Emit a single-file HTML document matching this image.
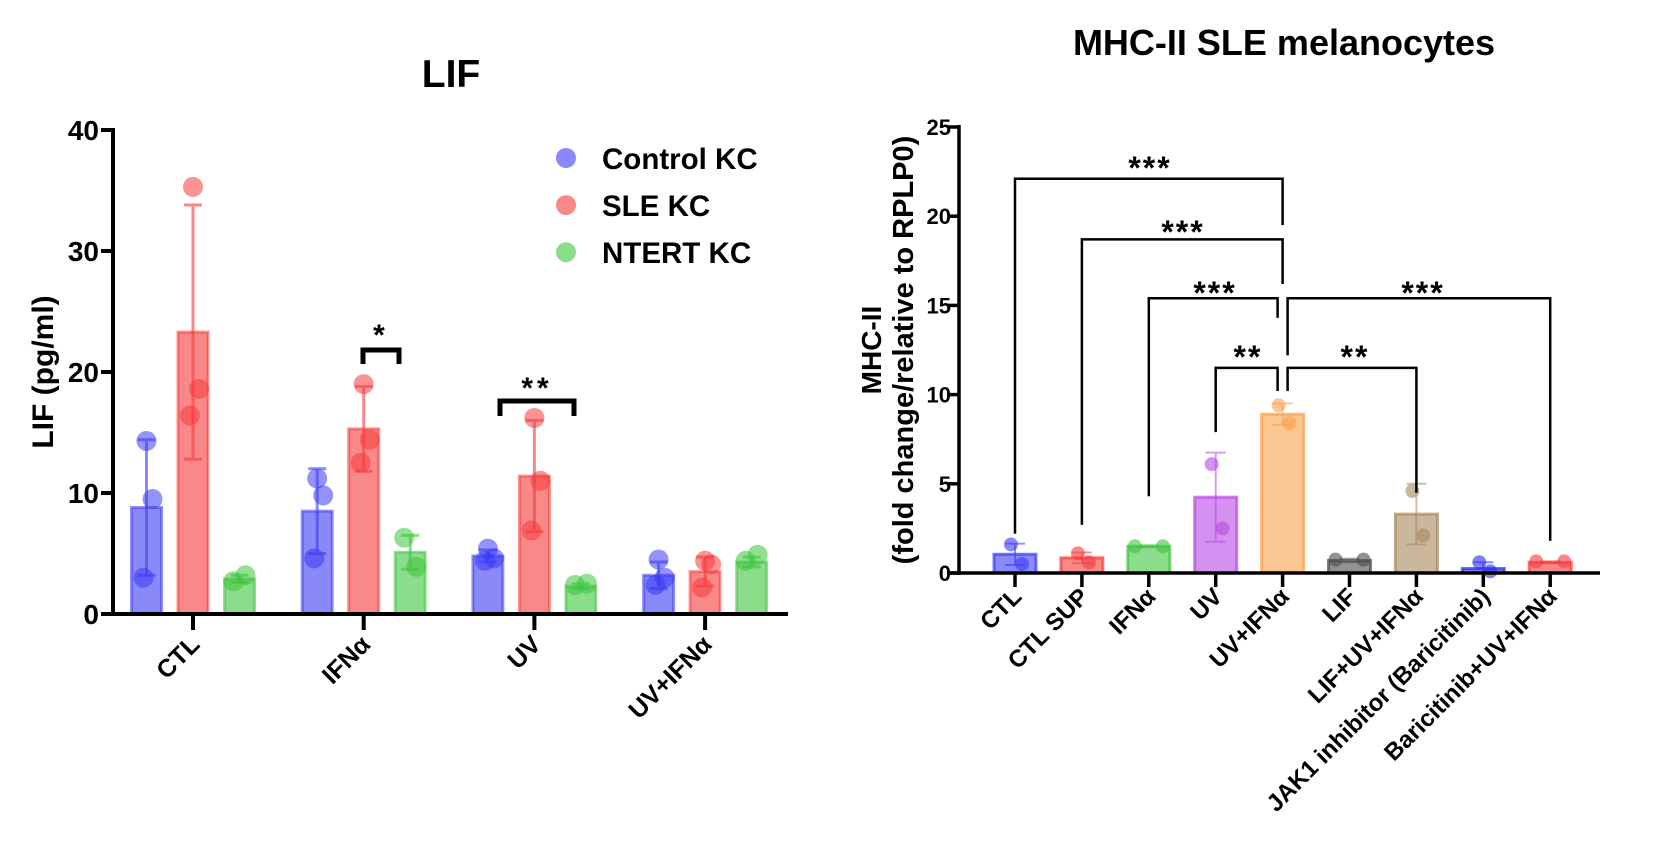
<!DOCTYPE html>
<html><head><meta charset="utf-8"><style>
html,body{margin:0;padding:0;background:#fff;}
svg{display:block;font-family:"Liberation Sans",Arial,sans-serif;font-weight:bold;}
</style></head><body>
<svg id="chart" width="1662" height="851" viewBox="0 0 1662 851" xmlns="http://www.w3.org/2000/svg">
<text x="451" y="87" font-size="39" text-anchor="middle">LIF</text>
<text x="1284" y="55" font-size="36" text-anchor="middle">MHC-II SLE melanocytes</text>
<text transform="translate(53,372) rotate(-90)" font-size="30" text-anchor="middle">LIF (pg/ml)</text>
<text transform="translate(881,350) rotate(-90)" font-size="28" text-anchor="middle">MHC-II</text>
<text transform="translate(913,350) rotate(-90)" font-size="29" text-anchor="middle">(fold change/relative to RPLP0)</text>
<g id="left"></g><g id="right"></g>
</svg>
<script>
const lifCategories=["CTL","IFNα","UV","UV+IFNα"];
const lifSeries=["Control KC","SLE KC","NTERT KC"];
const lifMeans=[[8.8,8.5,4.8,3.2],[23.3,15.3,11.4,3.5],[2.9,5.1,2.3,4.3]];
const lifSD=[[5.6,3.5,0.5,1.1],[10.5,3.5,4.6,1.2],[0.3,1.4,0.2,0.4]];
const lifPoints=[[[14.3,9.5,3.0],[11.2,9.8,4.6],[5.4,4.6,4.4],[4.5,3.0,2.4]],
 [[35.3,18.6,16.4],[19.0,14.4,12.5],[16.2,11.0,6.9],[4.4,4.1,2.2]],
 [[2.7,3.2],[6.3,3.9],[2.4,2.5],[4.4,4.9]]];
const lifTicks=[0,10,20,30,40];
const mhcCategories=["CTL","CTL SUP","IFNα","UV","UV+IFNα","LIF","LIF+UV+IFNα","JAK1 inhibitor (Baricitinib)","Baricitinib+UV+IFNα"];
const mhcMeans=[1.05,0.85,1.5,4.25,8.9,0.7,3.3,0.25,0.6];
const mhcSD=[0.6,0.3,0.05,2.5,0.6,0.1,1.7,0.35,0.05];
const mhcPoints=[[1.6,0.5],[1.1,0.6],[1.5,1.5],[6.1,2.5],[9.4,8.4],[0.75,0.75],[4.6,2.1],[0.6,0.1],[0.65,0.65]];
const mhcTicks=[0,5,10,15,20,25];
const NS="http://www.w3.org/2000/svg";
function mk(tag,parent,attrs){const e=document.createElementNS(NS,tag);for(const k in attrs)e.setAttribute(k,attrs[k]);parent.appendChild(e);return e;}
const L=document.getElementById('left'),R=document.getElementById('right');
const ly=v=>614-v*(484/40);
const lx=(c,s)=>193+c*170.7+(s-1)*46.5;
const lcol=["#3a3af5","#f53a3a","#3ec43e"];
for(let s=0;s<3;s++)for(let c=0;c<4;c++){
 const x=lx(c,s),m=lifMeans[s][c],sd=lifSD[s][c];
 let e=mk('rect',L,{x:x-15,y:ly(m),width:30,height:ly(0)-ly(m),fill:lcol[s],'fill-opacity':0.6,stroke:lcol[s],'stroke-opacity':0.55,'stroke-width':3});
 
 
 const t=ly(m+sd),b=ly(Math.max(0,m-sd));
 mk('path',L,{d:`M${x} ${t} V${b} M${x-9} ${t} H${x+9} M${x-9} ${b} H${x+9}`,stroke:lcol[s],'stroke-opacity':0.6,'stroke-width':3,fill:'none'});
 const pts=lifPoints[s][c];
 pts.forEach((p,i)=>{const off=pts.length===2?(i?6:-6):(i===1?6:(i===2?-3:0));
  e=mk('circle',L,{cx:x+off,cy:ly(p),r:10,fill:lcol[s],'fill-opacity':0.55});
  
  });
}
mk('line',L,{x1:113,x2:113,y1:128,y2:616,stroke:'#000','stroke-width':4});
mk('line',L,{x1:101,x2:788,y1:614,y2:614,stroke:'#000','stroke-width':4});
lifTicks.forEach(t=>{mk('line',L,{x1:101,x2:113,y1:ly(t),y2:ly(t),stroke:'#000','stroke-width':4});
 const e=mk('text',L,{x:99,y:ly(t)+10,'font-size':28,'text-anchor':'end'});e.textContent=t;
 
 });
lifCategories.forEach((c,i)=>{const x=193+i*170.7;mk('line',L,{x1:x,x2:x,y1:614,y2:630,stroke:'#000','stroke-width':4});
 const e=mk('text',L,{transform:`translate(${x+8},${646}) rotate(-45)`,'font-size':25,'text-anchor':'end'});e.textContent=c;
 
 });
function brk(g,x1,x2,yt,yb,label,ly2){mk('path',g,{d:`M${x1} ${yb} V${yt} H${x2} V${yb}`,fill:'none',stroke:'#000','stroke-width':5});
 const e=mk('text',g,{x:(x1+x2)/2,y:ly2,'font-size':30,'text-anchor':'middle','letter-spacing':4});e.textContent=label;
 
 }
brk(L,363,399,350,364,"*",345);
brk(L,500,574,401,416,"**",398);
lifSeries.forEach((s,i)=>{const y=158+i*47.1;
 let e=mk('circle',L,{cx:566,cy:y,r:10,fill:lcol[i],'fill-opacity':0.6});
 
 
 e=mk('text',L,{x:602,y:y+11,'font-size':29.5});e.textContent=s;
 
 });
// right chart
const ry=v=>573-v*17.84;
const rx=i=>1015+i*66.9;
const rcol=["#3a3af5","#f53a3a","#3ec43e","#b947e6","#f7a04a","#4a4a4a","#a8875e","#2a2af0","#f53a3a"];
mhcCategories.forEach((c,i)=>{const x=rx(i),m=mhcMeans[i],sd=mhcSD[i];
 let e=mk('rect',R,{x:x-21,y:ry(m),width:42,height:ry(0)-ry(m),fill:rcol[i],'fill-opacity':0.6,stroke:rcol[i],'stroke-opacity':0.7,'stroke-width':3});
 
 
 const t=ry(m+sd),b=ry(Math.max(0,m-sd));
 mk('path',R,{d:`M${x} ${t} V${b} M${x-10} ${t} H${x+10} M${x-10} ${b} H${x+10}`,stroke:rcol[i],'stroke-opacity':0.55,'stroke-width':2,fill:'none'});
 mhcPoints[i].forEach((p,j)=>{e=mk('circle',R,{cx:x+(Math.abs(mhcPoints[i][0]-mhcPoints[i][1])<0.3?(j?14:-14):(j?7:-4)),cy:ry(p),r:7,fill:rcol[i],'fill-opacity':0.6});
  
  });
 mk('line',R,{x1:x,x2:x,y1:573,y2:587,stroke:'#000','stroke-width':3.5});
 e=mk('text',R,{transform:`translate(${x+8},${598}) rotate(-45)`,'font-size':24,'text-anchor':'end'});e.textContent=c;
 
 
});
mk('line',R,{x1:959,x2:959,y1:125,y2:575,stroke:'#000','stroke-width':3.5});
mk('line',R,{x1:948,x2:1600,y1:573,y2:573,stroke:'#000','stroke-width':3.5});
mhcTicks.forEach(t=>{mk('line',R,{x1:948,x2:959,y1:ry(t),y2:ry(t),stroke:'#000','stroke-width':3.5});
 const e=mk('text',R,{x:951,y:ry(t)+8,'font-size':22,'text-anchor':'end'});e.textContent=t;
 
 });
function rb(x1,x2,y,yl,yr,label,lx,lyv){mk('path',R,{d:`M${x1} ${ry(yl)} V${ry(y)} H${x2} V${ry(yr)}`,fill:'none',stroke:'#000','stroke-width':2.5});
 const e=mk('text',R,{x:lx,y:ry(lyv)+18,'font-size':32,'text-anchor':'middle','letter-spacing':2});e.textContent=label;
 
 }
rb(rx(0),rx(4),22.1,2.2,19.5,"***",1150,23.1);
rb(rx(1),rx(4),18.7,2.7,16.2,"***",1183,19.5);
rb(rx(2),rx(4)-5,15.4,4.3,14.3,"***",1215,16.1);
rb(rx(4)+5,rx(8),15.4,12.2,1.8,"***",1423,16.1);
rb(rx(3),rx(4)-5,11.5,7.9,10.2,"**",1248,12.5);
rb(rx(4)+5,rx(6),11.5,10.2,4.5,"**",1355,12.5);
</script>
</body></html>
